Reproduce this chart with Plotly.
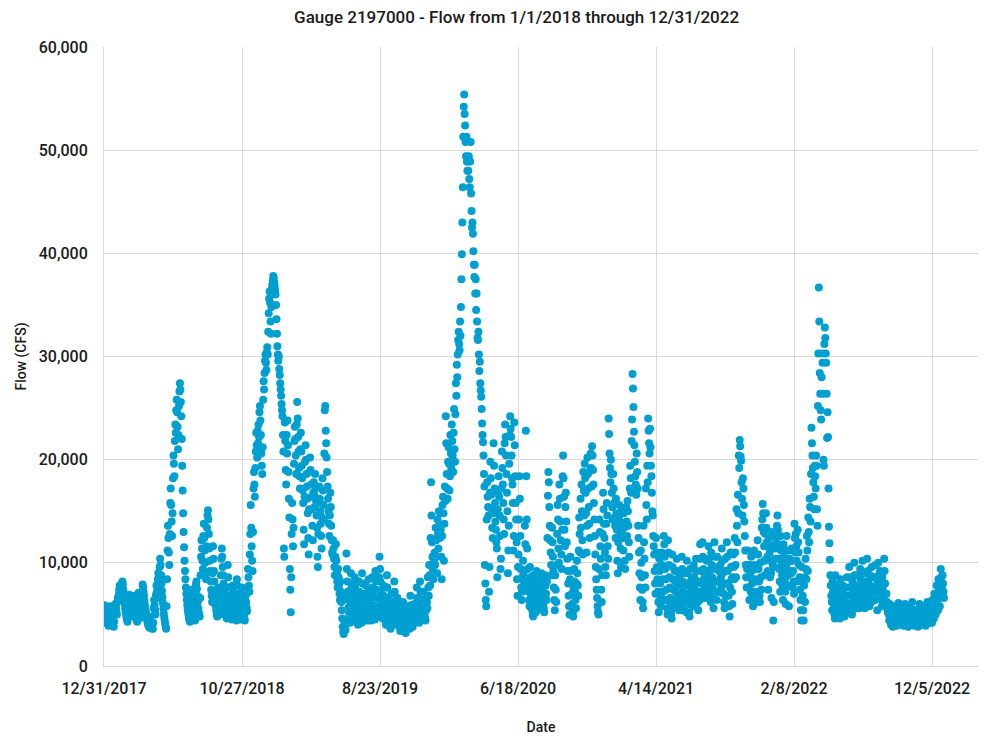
import pandas as pd
import plotly.graph_objects as go

# Daily flow, values in thousand CFS (one line per month)
flow_2018 = [
    5.9, 5.6, 5.2, 4.8, 4.5, 4.3, 4.2, 4.1, 4.0, 3.9, 4.4, 5.4, 5.8, 5.5, 5.1, 4.7, 4.4, 4.2, 4.0, 3.9, 3.8, 4.3, 5.0, 5.6, 6.0, 5.7, 5.3, 5.0, 6.2, 6.6, 6.3,
    6.9, 7.4, 7.8, 7.6, 7.2, 6.8, 7.5, 8.0, 8.2, 7.9, 7.4, 6.9, 6.4, 6.0, 5.6, 5.3, 5.0, 4.7, 4.5, 4.3, 4.9, 5.9, 6.6, 6.9, 6.5, 6.1, 5.7, 5.4,
    5.2, 5.0, 4.8, 6.2, 6.8, 6.5, 6.1, 5.7, 5.3, 5.0, 4.7, 4.5, 4.3, 5.5, 6.6, 7.1, 6.8, 6.4, 6.0, 5.6, 5.2, 4.9, 4.7, 6.9, 7.9, 7.6, 7.2, 6.8, 6.3, 5.9, 5.5,
    5.2, 4.9, 4.6, 4.4, 4.2, 4.0, 3.9, 3.8, 3.7, 4.8, 4.4, 4.1, 3.9, 3.7, 3.6, 3.6, 4.2, 5.6, 6.4, 5.9, 5.4, 5.0, 6.9, 7.8, 7.2, 6.6, 8.4, 9.0, 8.3, 7.6,
    9.6, 10.4, 9.8, 8.8, 8.0, 7.3, 6.7, 6.1, 5.6, 5.1, 4.7, 4.4, 4.1, 3.8, 3.6, 5.8, 8.4, 11.2, 13.6, 12.4, 11.0, 9.8, 12.8, 15.8, 17.2, 15.6, 14.0, 12.6, 14.8, 18.2, 20.4,
    19.6, 18.4, 21.8, 23.4, 22.6, 24.8, 25.8, 24.6, 23.2, 21.0, 22.4, 25.2, 26.6, 27.4, 26.8, 25.6, 24.2, 22.0, 19.4, 17.0, 14.8, 13.0, 11.5, 10.2, 9.2, 8.4, 7.6, 7.0, 6.4, 5.9,
    5.5, 5.2, 4.9, 4.6, 4.4, 4.3, 5.6, 6.8, 7.4, 6.8, 6.2, 5.7, 5.3, 5.0, 4.7, 4.5, 4.4, 5.8, 7.9, 8.2, 7.5, 6.8, 6.2, 5.6, 5.2, 4.9, 4.8, 6.6, 8.8, 10.6, 12.2,
    11.4, 10.2, 9.4, 12.6, 13.8, 12.4, 11.2, 10.0, 9.0, 8.4, 11.6, 13.4, 14.6, 15.1, 14.2, 12.8, 11.4, 10.2, 9.2, 8.2, 7.4, 6.8, 6.2, 9.0, 11.6, 10.4, 9.2, 8.2, 7.2, 6.4, 5.8,
    5.4, 5.0, 4.8, 6.2, 7.6, 7.0, 6.4, 5.9, 5.4, 5.0, 8.8, 10.4, 11.4, 10.6, 9.6, 8.8, 8.0, 7.3, 6.6, 6.0, 5.5, 5.1, 4.8, 4.6, 6.8, 9.8, 8.6, 7.6, 6.8, 6.2,
    5.7, 5.3, 5.0, 4.7, 4.5, 6.4, 7.8, 7.2, 6.6, 6.1, 5.6, 5.2, 4.9, 4.6, 4.4, 8.4, 7.8, 7.0, 6.4, 5.8, 5.4, 5.0, 4.7, 4.5, 6.2, 7.6, 7.0, 6.4, 5.8, 5.3, 4.9,
    4.6, 4.4, 5.6, 6.8, 6.2, 5.7, 5.3, 7.6, 9.4, 8.6, 7.8, 7.2, 10.8, 12.8, 15.6, 13.4, 11.6, 10.2, 9.2, 13.0, 17.2, 18.8, 17.6, 16.4, 19.2, 20.8, 22.6, 21.4, 20.2, 22.8,
    21.6, 23.4, 22.2, 24.6, 25.2, 23.8, 22.4, 20.6, 19.4, 18.6, 21.2, 25.8, 27.6, 26.8, 28.4, 29.6, 30.2, 29.4, 28.7, 30.4, 30.9, 30.2, 32.4, 34.2, 35.6, 36.3, 35.2, 33.4, 32.2, 34.8, 36.6,
]
flow_2019 = [
    37.0, 37.4, 37.8, 37.6, 37.2, 36.8, 36.4, 36.0, 35.0, 33.6, 32.2, 31.0, 30.2, 29.6, 30.0, 28.8, 28.2, 27.4, 26.8, 26.2, 25.4, 24.8, 24.2, 22.4, 20.8, 11.4, 10.6, 23.6, 21.8, 19.0, 17.6,
    22.4, 20.6, 23.8, 21.4, 18.8, 16.2, 14.4, 9.4, 7.4, 5.2, 8.6, 12.8, 15.8, 14.2, 11.6, 13.4, 19.6, 21.8, 23.2, 22.0, 20.4, 18.6, 23.4, 25.6, 24.0, 22.2, 20.8, 19.2,
    18.4, 17.2, 21.0, 22.6, 20.8, 19.4, 18.2, 17.0, 15.8, 13.2, 11.8, 16.4, 19.8, 21.4, 20.0, 18.6, 17.4, 16.2, 14.8, 12.4, 10.8, 15.2, 18.8, 20.2, 19.0, 17.6, 16.4, 15.2, 13.6, 12.2, 16.8,
    17.8, 16.6, 15.4, 18.6, 17.2, 16.0, 14.6, 13.4, 10.6, 9.6, 12.8, 15.8, 17.4, 16.2, 15.0, 13.8, 12.6, 11.4, 14.4, 18.2, 17.0, 15.6, 14.2, 20.6, 24.8, 25.2, 22.8, 21.6, 20.2, 18.8,
    17.4, 16.2, 15.0, 13.8, 12.6, 14.6, 16.8, 15.4, 13.6, 12.2, 11.0, 10.8, 12.2, 11.4, 10.4, 9.6, 8.8, 10.6, 11.8, 10.2, 9.0, 8.2, 7.6, 9.4, 8.6, 7.8, 7.0, 6.4, 8.2, 7.2, 6.2,
    5.4, 4.6, 3.8, 3.3, 3.1, 3.6, 4.4, 3.9, 3.5, 6.8, 10.9, 9.4, 8.2, 7.2, 6.4, 5.7, 5.1, 4.6, 4.2, 7.4, 9.0, 8.0, 7.0, 6.2, 5.5, 5.0, 4.5, 6.6, 8.6, 7.6,
    6.6, 5.8, 5.2, 4.6, 4.2, 4.0, 6.2, 8.2, 7.2, 6.4, 5.6, 5.0, 4.5, 4.2, 9.0, 8.0, 7.0, 6.2, 5.5, 5.0, 4.6, 4.4, 7.8, 6.8, 6.0, 5.4, 4.8, 4.4, 8.4, 7.4, 6.4,
    5.6, 5.0, 4.6, 4.4, 7.0, 8.6, 7.6, 6.7, 5.9, 5.3, 4.8, 4.5, 9.2, 8.2, 7.4, 6.6, 5.8, 5.2, 4.8, 6.6, 8.6, 10.6, 9.4, 8.2, 7.2, 6.4, 5.6, 5.0, 4.6, 7.8, 6.8,
    6.0, 5.3, 4.8, 4.4, 4.0, 7.6, 8.8, 7.6, 6.6, 5.8, 5.1, 4.6, 4.2, 3.9, 3.6, 6.0, 7.0, 6.2, 5.5, 4.9, 4.4, 4.0, 8.2, 7.2, 6.3, 5.6, 5.0, 4.5, 4.0, 6.6,
    5.8, 5.1, 4.6, 4.2, 3.8, 3.4, 5.6, 4.9, 4.4, 4.0, 3.6, 6.2, 5.4, 4.8, 4.3, 3.9, 3.5, 3.2, 5.0, 4.5, 4.0, 3.7, 5.8, 5.1, 4.5, 4.1, 3.6, 6.8, 5.9, 5.1, 4.5,
    4.1, 3.8, 5.2, 4.6, 4.2, 6.0, 5.3, 4.7, 4.3, 5.4, 7.6, 6.6, 5.8, 5.1, 4.6, 4.2, 5.8, 8.2, 7.2, 6.4, 5.6, 5.0, 4.6, 6.4, 7.2, 6.4, 5.6, 5.0, 4.6, 4.4,
    5.4, 6.8, 6.2, 5.6, 8.6, 7.6, 6.8, 9.8, 8.8, 7.8, 12.4, 17.8, 14.6, 12.0, 10.6, 9.4, 8.4, 10.2, 12.2, 11.0, 9.8, 13.4, 12.2, 10.6, 9.0, 14.2, 12.8, 11.4, 15.0, 13.6, 12.4,
]
flow_2020 = [
    14.8, 13.2, 10.6, 8.4, 12.6, 15.6, 16.4, 14.8, 10.2, 13.8, 17.4, 16.0, 24.2, 21.6, 18.6, 17.2, 16.2, 19.8, 21.2, 19.6, 17.0, 18.4, 22.4, 20.6, 19.2, 23.4, 21.8, 20.4, 18.8, 22.6, 24.9,
    21.0, 19.8, 24.4, 27.4, 26.2, 29.2, 28.0, 30.2, 31.6, 32.4, 31.2, 30.6, 33.4, 32.0, 34.8, 37.5, 39.9, 43.0, 46.4, 51.3, 54.2, 55.4, 53.5, 52.4, 50.8, 49.4, 51.3, 48.9, 48.0,
    48.9, 48.0, 49.4, 47.2, 46.4, 48.9, 50.8, 45.8, 44.1, 42.5, 43.0, 41.9, 40.2, 38.9, 37.7, 38.9, 36.1, 37.5, 34.5, 36.1, 33.4, 31.8, 31.6, 32.4, 30.2, 28.6, 29.5, 27.4, 26.7, 26.1, 24.9,
    23.5, 22.4, 21.7, 20.4, 18.6, 17.4, 9.8, 8.0, 6.4, 5.8, 14.2, 17.8, 16.4, 15.4, 14.6, 7.2, 9.6, 16.8, 19.8, 18.2, 16.6, 15.2, 13.4, 12.4, 14.8, 21.6, 19.4, 17.2, 15.8, 14.0,
    13.2, 12.0, 11.4, 8.6, 15.2, 16.8, 18.4, 16.4, 14.6, 12.6, 9.4, 10.4, 17.2, 20.8, 19.2, 17.6, 15.8, 14.2, 12.8, 21.6, 23.4, 22.2, 20.4, 18.6, 16.8, 15.0, 9.0, 11.2, 13.6, 19.6, 22.4,
    24.2, 23.0, 22.2, 20.4, 18.2, 17.6, 15.8, 11.2, 12.6, 23.6, 21.4, 18.4, 15.8, 14.2, 12.0, 8.4, 6.8, 9.6, 10.8, 14.2, 18.4, 16.2, 12.6, 9.4, 7.6, 6.4, 7.2, 8.6, 10.2, 9.0,
    8.2, 7.6, 13.6, 11.8, 22.8, 18.4, 14.2, 11.4, 9.4, 8.2, 7.2, 6.4, 5.8, 9.6, 8.6, 7.6, 6.8, 6.0, 5.4, 5.0, 4.8, 8.8, 8.0, 7.2, 6.4, 5.8, 5.2, 9.2, 8.4, 7.4, 6.6,
    6.0, 5.6, 8.6, 7.8, 7.0, 6.4, 5.9, 9.0, 8.2, 7.4, 6.6, 6.0, 5.6, 5.2, 7.8, 8.8, 7.8, 7.0, 6.4, 8.2, 12.4, 16.5, 18.8, 17.8, 15.4, 13.6, 12.2, 11.0, 9.8, 8.8, 13.4,
    12.0, 10.6, 9.2, 7.6, 6.4, 5.4, 8.8, 7.4, 6.2, 9.8, 12.8, 15.6, 14.2, 11.4, 10.0, 17.6, 16.2, 14.0, 12.2, 10.8, 9.4, 13.2, 18.4, 20.4, 18.2, 16.4, 13.2, 11.6, 15.4, 16.8,
    14.0, 12.0, 10.4, 9.2, 8.0, 6.8, 5.8, 5.0, 8.4, 10.6, 9.2, 8.0, 7.0, 6.0, 5.2, 4.8, 7.6, 9.4, 8.2, 7.2, 6.4, 5.6, 8.0, 10.2, 9.0, 7.8, 6.8, 11.2, 14.4, 12.8, 11.0,
    16.2, 13.4, 17.6, 15.0, 12.2, 10.8, 18.8, 17.0, 14.6, 19.6, 18.2, 16.8, 14.8, 11.0, 13.6, 20.2, 18.6, 17.2, 15.4, 13.8, 12.4, 19.0, 20.6, 19.2, 17.4, 21.3, 20.4, 19.0, 17.6, 15.8,
    14.2, 12.6, 10.8, 9.6, 8.4, 7.4, 6.6, 5.8, 5.2, 5.0, 9.4, 14.2, 13.0, 11.6, 10.4, 7.4, 6.2, 8.8, 12.8, 16.8, 15.2, 13.8, 12.4, 11.0, 9.6, 8.8, 13.8, 15.8, 14.6, 11.6, 10.4,
]
flow_2021 = [
    24.0, 22.5, 20.6, 19.2, 17.8, 20.0, 18.6, 16.8, 15.4, 14.2, 18.6, 17.2, 15.8, 14.4, 13.6, 12.4, 16.2, 14.8, 13.2, 10.2, 9.0, 12.0, 14.4, 15.6, 14.0, 12.6, 11.4, 9.6, 13.0, 15.2, 13.8,
    12.4, 11.2, 14.8, 13.4, 10.2, 9.4, 13.6, 15.4, 14.0, 12.6, 16.0, 15.0, 13.6, 12.0, 10.6, 17.2, 19.4, 18.2, 16.8, 21.8, 23.9, 28.3, 26.9, 25.1, 22.7, 21.4, 19.8, 18.4,
    17.6, 16.6, 20.6, 18.8, 17.2, 13.6, 12.4, 11.0, 9.0, 7.6, 6.4, 11.2, 10.0, 8.6, 7.4, 6.2, 5.6, 13.6, 12.0, 10.4, 8.8, 7.6, 17.2, 15.6, 14.2, 19.4, 17.8, 24.0, 22.8, 21.6, 20.6,
    23.0, 21.2, 19.4, 18.4, 16.8, 15.0, 14.6, 12.6, 11.6, 10.8, 9.2, 8.0, 7.0, 12.4, 11.0, 9.6, 8.4, 7.2, 6.2, 5.2, 10.4, 9.2, 8.0, 6.8, 5.8, 11.0, 9.8, 8.4, 7.2, 6.4,
    12.6, 11.8, 10.6, 9.4, 8.4, 7.4, 6.4, 5.6, 5.0, 12.2, 11.0, 9.8, 8.6, 7.6, 6.6, 5.8, 5.0, 4.6, 10.8, 9.6, 8.4, 7.4, 6.4, 5.6, 9.2, 8.2, 7.2, 6.4, 10.4, 9.2, 8.0,
    7.0, 6.2, 5.4, 8.8, 7.8, 6.8, 6.0, 5.4, 10.6, 9.4, 8.2, 7.2, 6.2, 5.4, 9.0, 8.0, 7.0, 6.2, 5.2, 10.2, 9.0, 7.8, 6.8, 6.0, 5.2, 4.8, 9.4, 8.2, 7.2, 6.4,
    8.6, 7.6, 6.6, 5.8, 9.8, 8.6, 7.6, 6.6, 5.8, 10.4, 9.2, 8.2, 7.2, 6.2, 5.4, 8.2, 7.2, 6.4, 11.8, 10.4, 9.2, 8.0, 7.0, 12.0, 10.6, 9.4, 8.4, 7.4, 6.6, 8.8, 7.8,
    6.8, 10.2, 9.2, 8.2, 7.4, 11.6, 10.4, 9.2, 8.2, 7.2, 6.2, 11.0, 9.8, 8.6, 7.6, 6.6, 5.6, 9.6, 12.0, 10.6, 9.4, 8.2, 7.2, 6.4, 10.6, 9.4, 8.2, 7.2, 9.2, 8.2, 7.2,
    9.8, 8.6, 7.6, 11.4, 10.2, 9.0, 8.0, 7.0, 6.2, 5.6, 10.4, 9.2, 8.0, 6.8, 12.0, 10.6, 9.2, 8.0, 6.8, 5.8, 4.8, 7.6, 11.0, 9.6, 8.4, 7.2, 6.0, 8.6, 10.8, 9.6,
    8.4, 12.4, 11.0, 9.8, 8.6, 15.2, 13.6, 12.0, 16.6, 14.8, 20.4, 19.2, 21.9, 21.3, 20.3, 19.9, 17.8, 16.2, 14.6, 18.2, 17.2, 15.6, 14.0, 12.6, 11.2, 9.8, 8.6, 7.6, 9.4, 11.2, 9.8,
    8.6, 7.6, 6.4, 9.8, 8.6, 7.2, 10.6, 9.2, 8.0, 6.8, 5.8, 8.2, 11.2, 9.8, 8.4, 7.2, 6.2, 9.4, 8.2, 7.0, 12.2, 10.8, 9.4, 8.2, 6.8, 6.2, 10.0, 8.6, 7.4, 13.4,
    14.2, 15.7, 14.8, 13.0, 11.6, 10.2, 8.8, 12.8, 14.8, 13.4, 12.0, 10.6, 9.2, 7.4, 11.6, 12.4, 11.0, 8.6, 10.2, 9.0, 6.6, 13.0, 11.4, 9.8, 4.4, 6.2, 9.6, 11.8, 10.4, 12.6, 11.4,
]
flow_2022 = [
    12.4, 13.6, 14.6, 13.2, 11.8, 10.4, 9.4, 8.2, 7.2, 12.6, 11.2, 10.0, 8.8, 7.8, 6.4, 11.8, 10.6, 9.4, 8.4, 7.2, 6.0, 9.8, 12.6, 11.2, 10.0, 8.8, 7.8, 5.8, 10.4, 9.2, 11.2,
    10.2, 9.0, 11.4, 10.2, 7.6, 9.2, 8.2, 7.0, 13.8, 12.4, 11.0, 12.8, 11.6, 10.2, 8.2, 13.2, 12.0, 11.0, 9.8, 8.6, 7.4, 6.4, 5.4, 4.4, 9.6, 8.2, 6.8, 5.4,
    4.4, 7.8, 8.6, 6.2, 10.4, 9.4, 8.4, 12.6, 11.2, 9.2, 14.4, 13.0, 12.0, 16.2, 15.4, 14.0, 18.6, 23.1, 21.6, 20.4, 19.2, 17.8, 16.4, 15.2, 19.4, 18.4, 17.2, 20.4, 19.4, 15.2, 13.6,
    25.2, 30.3, 36.7, 33.4, 28.4, 26.4, 24.8, 23.9, 28.0, 30.3, 29.4, 26.4, 20.0, 19.4, 31.2, 32.8, 31.8, 30.3, 29.4, 26.4, 22.1, 24.6, 22.2, 17.2, 13.5, 11.9, 10.3, 8.8, 7.8, 6.8,
    6.2, 5.4, 8.2, 7.2, 6.4, 5.6, 5.0, 4.6, 8.8, 7.8, 6.8, 6.0, 5.2, 4.8, 7.4, 6.6, 5.8, 5.2, 4.6, 8.4, 7.4, 6.6, 5.8, 5.0, 7.8, 7.0, 6.2, 5.6, 4.8, 7.6, 6.8,
    6.0, 5.4, 8.6, 7.6, 6.8, 6.0, 5.4, 9.6, 8.6, 7.6, 6.8, 6.0, 5.2, 5.0, 8.2, 7.4, 6.6, 5.8, 10.0, 8.8, 7.8, 6.8, 6.0, 5.6, 8.8, 7.8, 7.0, 6.2, 5.6, 7.4,
    6.6, 9.4, 8.4, 7.6, 6.8, 6.2, 10.2, 9.0, 8.0, 7.0, 6.2, 5.6, 9.0, 8.2, 7.4, 6.6, 10.4, 9.2, 8.2, 7.2, 6.4, 5.8, 8.8, 7.8, 7.0, 6.2, 9.6, 8.6, 7.6, 6.8, 7.2,
    8.6, 7.6, 6.4, 9.8, 8.6, 7.6, 6.6, 5.4, 8.2, 10.0, 8.8, 7.8, 6.8, 9.2, 8.2, 7.2, 6.4, 5.8, 8.6, 7.6, 6.6, 5.8, 10.4, 9.2, 8.0, 7.0, 6.2, 7.0, 6.2, 5.6, 5.2,
    5.6, 5.0, 4.4, 6.0, 5.4, 4.8, 4.0, 5.2, 4.8, 4.2, 3.8, 5.8, 5.2, 4.6, 4.2, 5.0, 4.6, 4.2, 3.9, 5.4, 4.8, 4.3, 6.1, 5.4, 4.8, 4.4, 4.0, 5.6, 5.0, 4.5,
    4.2, 5.6, 5.0, 4.4, 3.9, 4.8, 6.0, 5.4, 4.8, 4.4, 5.2, 4.6, 4.2, 3.8, 4.6, 5.8, 5.2, 4.6, 4.0, 5.0, 4.5, 4.1, 6.2, 5.5, 4.9, 4.5, 4.1, 3.9, 5.2, 4.7, 4.3,
    4.6, 5.4, 4.9, 4.4, 3.8, 5.0, 4.5, 6.0, 5.4, 4.8, 4.2, 5.6, 5.0, 4.5, 4.0, 4.8, 4.4, 5.8, 5.2, 4.6, 3.9, 5.2, 4.7, 4.4, 6.2, 5.5, 4.9, 4.5, 4.7, 4.2,
    4.6, 5.8, 5.2, 4.6, 4.2, 6.4, 5.6, 5.0, 4.6, 7.0, 6.2, 5.6, 5.0, 6.2, 7.8, 6.8, 6.0, 5.4, 8.4, 7.4, 6.6, 5.8, 6.8, 9.4, 8.6, 7.6, 6.8, 8.8, 8.0, 7.2, 6.6,
]

years = [2018, 2019, 2020, 2021, 2022]
yearly = [flow_2018, flow_2019, flow_2020, flow_2021, flow_2022]

dates = []
flows = []
for yr, vals in zip(years, yearly):
    d = pd.date_range(f"{yr}-01-01", periods=len(vals), freq="D")
    dates += [x.strftime("%Y-%m-%d") for x in d]
    flows += [v * 1000 for v in vals]

TITLE = "Gauge 2197000 - Flow from 1/1/2018 through 12/31/2022"
FONT = "Roboto, Liberation Sans Narrow, Arial Narrow, sans-serif"
TXT = "#1a1a1a"
GRID = "#d9d9d9"

fig = go.Figure(go.Scatter(
    x=dates, y=flows, mode="markers",
    marker=dict(color="#009FD1", size=8, line=dict(width=0)),
    hovertemplate="%{x|%-m/%-d/%Y}: %{y:,.0f} CFS<extra></extra>",
))

fig.update_layout(
    width=984, height=738,
    paper_bgcolor="white", plot_bgcolor="white",
    margin=dict(l=104, r=6, t=47, b=66),
    showlegend=False,
    font=dict(family=FONT, color=TXT, size=16),
    title=dict(text=TITLE, x=0.525, xanchor="center", y=0.977, yanchor="middle",
               font=dict(family=FONT, size=17, color=TXT, weight=500)),
)
fig.update_xaxes(
    type="date",
    range=["2017-12-31", "2023-03-15"],
    tick0="2017-12-31", dtick=300 * 86400000,
    tickformat="%-m/%-d/%Y",
    showgrid=True, gridcolor=GRID, gridwidth=1,
    showline=True, linecolor=GRID, linewidth=1,
    ticks="", ticklabelstandoff=8,
    tickfont=dict(family=FONT, size=16, color=TXT, weight=500),
    title=dict(text="Date", font=dict(family=FONT, size=14, color=TXT, weight=500), standoff=24),
    zeroline=False,
)
fig.update_yaxes(
    range=[0, 60000], dtick=10000, tickformat=",d",
    showgrid=True, gridcolor=GRID, gridwidth=1,
    showline=True, linecolor=GRID, linewidth=1,
    ticks="", ticklabelstandoff=12,
    tickfont=dict(family=FONT, size=16, color=TXT, weight=500),
    title=dict(text="Flow (CFS)", font=dict(family=FONT, size=14, color=TXT, weight=500), standoff=8),
    zeroline=False,
)

fig.write_html("out.html")
